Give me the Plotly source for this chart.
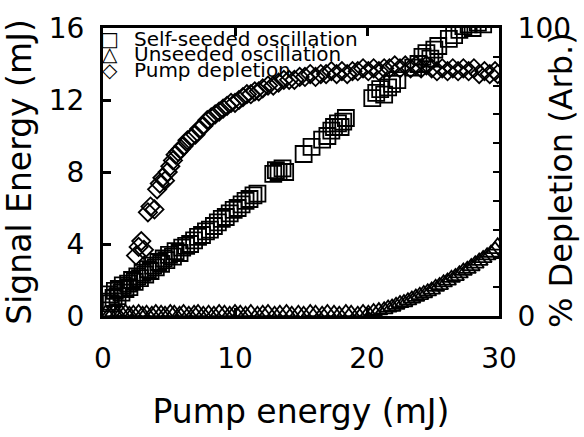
import plotly.graph_objects as go

# ---------------- data ----------------
# Self-seeded oscillation: signal energy (mJ) vs pump energy (mJ)
ss_pump = [0.3, 0.5, 0.6, 0.8, 0.9, 1.1, 1.2, 1.4, 1.5, 1.7, 1.9, 2.0, 2.2, 2.4, 2.6,
           2.8, 3.0, 3.2, 3.4, 3.6, 3.8, 4.0, 4.2, 4.4, 4.6, 4.8, 5.0, 5.3, 5.5, 5.8,
           6.0, 6.3, 6.6, 6.9, 7.2, 7.5, 7.8, 8.1, 8.4, 8.7, 9.0, 9.3, 9.6, 9.9, 10.2,
           10.5, 10.8, 11.1, 11.4, 11.7, 12.9, 13.1, 13.3, 13.6, 13.8, 15.2, 15.8, 16.6,
           17.0, 17.3, 17.5, 17.8, 18.0, 18.2, 18.4, 20.4, 20.7, 21.0, 21.3, 21.6, 21.9,
           22.3, 23.5, 23.9, 24.2, 24.5, 24.8, 25.1, 25.4, 26.2, 26.6, 27.0, 27.3, 27.7,
           28.0, 28.4, 28.8]
ss_signal = [0.8, 1.2, 0.7, 1.0, 1.4, 1.1, 1.5, 1.3, 1.7, 1.5, 1.8, 1.6, 2.0, 1.9, 2.2,
             2.1, 2.4, 2.3, 2.6, 2.5, 2.8, 2.7, 3.0, 2.9, 3.2, 3.1, 3.4, 3.3, 3.6, 3.5,
             3.8, 3.9, 4.0, 4.2, 4.4, 4.5, 4.7, 4.8, 5.0, 5.2, 5.4, 5.5, 5.7, 5.9, 6.0,
             6.2, 6.4, 6.5, 6.7, 6.8, 7.9, 8.1, 8.0, 8.2, 8.0, 9.0, 9.4, 9.8,
             10.0, 10.3, 10.5, 10.7, 10.5, 10.8, 11.0, 12.1, 12.4, 12.6, 12.3, 12.7, 12.9,
             13.1, 13.8, 14.0, 14.4, 14.6, 14.3, 14.8, 15.0, 15.4, 15.6, 15.9, 16.1, 16.2,
             16.0, 16.3, 16.2]

# Unseeded oscillation: signal energy (mJ) vs pump energy (mJ)
us_pump = [0.2, 0.5, 0.8, 1.1, 1.4, 1.7, 2.0, 2.3, 2.7, 3.0, 3.3, 3.7, 4.0, 4.4, 4.7,
           5.1, 5.4, 5.8, 6.1, 6.5, 6.9, 7.2, 7.6, 8.0, 8.4, 8.8, 9.2, 9.6, 10.0, 10.4,
           10.8, 11.2, 11.7, 12.1, 12.5, 13.0, 13.4, 13.9, 14.3, 14.8, 15.2, 15.7, 16.1,
           16.6, 17.0, 17.5, 17.9, 18.4, 18.8, 19.3, 19.7, 20.1, 20.5, 20.9, 21.3, 21.6,
           21.9, 22.2, 22.5, 22.8, 23.1, 23.4, 23.7, 24.0, 24.3, 24.6, 24.9, 25.2, 25.5,
           25.8, 26.1, 26.4, 26.7, 27.0, 27.3, 27.6, 27.9, 28.2, 28.5, 28.8, 29.1, 29.4,
           29.7, 29.9]
us_signal = [0.15, 0.1, 0.2, 0.1, 0.15, 0.2, 0.1, 0.15, 0.2, 0.1, 0.15, 0.1, 0.2, 0.15,
             0.1, 0.2, 0.15, 0.1, 0.2, 0.1, 0.15, 0.2, 0.1, 0.15, 0.1, 0.2, 0.15, 0.1,
             0.2, 0.15, 0.1, 0.2, 0.1, 0.15, 0.2, 0.1, 0.15, 0.2, 0.1, 0.15, 0.1, 0.2,
             0.15, 0.1, 0.2, 0.15, 0.1, 0.2, 0.15, 0.1, 0.2, 0.15, 0.25, 0.3, 0.35, 0.45,
             0.5, 0.6, 0.7, 0.75, 0.85, 0.95, 1.05, 1.15, 1.25, 1.35, 1.45, 1.6, 1.7,
             1.85, 1.95, 2.1, 2.2, 2.35, 2.5, 2.6, 2.75, 2.9, 3.05, 3.2, 3.35, 3.5,
             3.7, 3.9]

# Pump depletion (%) vs pump energy (mJ), right axis
pd_pump = [2.5, 2.7, 2.9, 3.1, 3.4, 3.6, 3.9, 4.1, 4.3, 4.5, 4.7, 4.9, 5.1, 5.3, 5.5,
           5.7, 5.9, 6.1, 6.4, 6.7, 7.0, 7.3, 7.6, 7.9, 8.2, 8.5, 8.8, 9.1, 9.4, 9.7,
           10.0, 10.3, 10.6, 10.9, 11.2, 11.5, 11.8, 12.1, 12.5, 12.9, 13.3, 13.7, 14.1,
           14.5, 14.9, 15.3, 15.7, 16.1, 16.5, 16.9, 17.3, 17.7, 18.1, 18.5, 18.9, 19.3,
           19.7, 20.1, 20.5, 20.9, 21.3, 21.7, 22.1, 22.5, 22.9, 23.3, 23.7, 24.1, 24.5,
           24.9, 25.3, 25.7, 26.1, 26.5, 26.9, 27.3, 27.7, 28.1, 28.5, 28.9, 29.3, 29.7,
           29.9]
pd_depletion = [21, 24, 26, 23, 36, 38, 37, 44, 46, 48, 47, 50, 52, 54, 56,
                57, 58, 59, 61, 62, 63, 65, 66, 68, 69, 70, 71, 72, 73, 74,
                74, 75, 76, 77, 77, 78, 78, 79, 80, 80, 81, 82, 82,
                82, 83, 83, 84, 83, 84, 84, 85, 84, 85, 84, 85, 85,
                86, 85, 86, 85, 86, 86, 87, 86, 87, 86, 87, 86, 87,
                86, 85, 86, 85, 86, 85, 86, 85, 86, 84, 85, 84, 85,
                84]

series_names = ["Self-seeded oscillation", "Unseeded oscillation", "Pump depletion"]
legend_symbols = ["\u25a1", "\u25b3", "\u25c7"]

x_ticks = [0, 10, 20, 30]
y_ticks = [0, 4, 8, 12, 16]
y2_ticks = [0, 10, 20, 30, 40, 50, 60, 70, 80, 90, 100]
y2_ticktext = ["0", "", "", "", "", "", "", "", "", "", "100"]

x_title = "Pump energy (mJ)"
y_title = "Signal Energy (mJ)"
y2_title = "% Depletion (Arb.)"

# ---------------- figure ----------------
W, H = 584, 437
L, R, T, B = 101, 499, 15, 342
FONT = "DejaVu Sans"


def px_x(p):
    return (p - L) / (R - L)


def px_y(p):
    return (B - p) / (B - T)


mline = dict(color="black", width=1.8)

fig = go.Figure()
fig.add_trace(go.Scatter(x=ss_pump, y=ss_signal, mode="markers", name=series_names[0],
                         marker=dict(symbol="square-open", size=16, color="black", line=mline),
                         showlegend=False))
fig.add_trace(go.Scatter(x=us_pump, y=us_signal, mode="markers", name=series_names[1],
                         marker=dict(symbol="triangle-up-open", size=15, color="black", line=mline),
                         showlegend=False))
fig.add_trace(go.Scatter(x=pd_pump, y=pd_depletion, mode="markers", name=series_names[2],
                         yaxis="y2",
                         marker=dict(symbol="diamond-open", size=14, color="black", line=mline),
                         showlegend=False))

tickfont = dict(family=FONT, size=28, color="black")
titlefont = dict(family=FONT, size=33, color="black")

fig.update_layout(
    width=W, height=H,
    margin=dict(l=L, r=W - R, t=T, b=H - B, pad=0),
    paper_bgcolor="white", plot_bgcolor="white",
    font=dict(family=FONT, color="black"),
    xaxis=dict(range=[0, 30], tickvals=x_ticks, ticks="inside", ticklen=8, tickwidth=2.5,
               tickcolor="black", showline=True, linecolor="black", linewidth=3,
               mirror="ticks", showgrid=False, zeroline=False, tickfont=tickfont,
               ticklabelstandoff=15, ticklabeloverflow="allow",
               title=dict(text=x_title, font=titlefont, standoff=27)),
    yaxis=dict(range=[0, 16], tickvals=y_ticks, ticks="inside", ticklen=8, tickwidth=3,
               tickcolor="black", showline=True, linecolor="black", linewidth=3,
               mirror=True, showgrid=False, zeroline=False, tickfont=tickfont,
               ticklabelstandoff=10, ticklabeloverflow="allow",
               title=dict(text=y_title, font=titlefont, standoff=14)),
    yaxis2=dict(range=[0, 100], overlaying="y", side="right", tickvals=y2_ticks,
                ticktext=y2_ticktext, ticks="inside", ticklen=6, tickwidth=2,
                tickcolor="black", showline=True, linecolor="black", linewidth=3,
                showgrid=False, zeroline=False, tickfont=tickfont, ticklabelstandoff=10,
                ticklabeloverflow="allow"),
)

# right-axis title placed as text
fig.add_annotation(text=y2_title, xref="paper", yref="paper", x=px_x(562), y=px_y(188),
                   textangle=-90, showarrow=False,
                   font=dict(family=FONT, size=32, color="black"),
                   xanchor="center", yanchor="middle")

# legend drawn as text rows inside the plot
row_y = [27, 45, 63]
for sym, name, ry in zip(legend_symbols, series_names, row_y):
    fig.add_annotation(text=sym, xref="paper", yref="paper", x=px_x(108), y=px_y(ry),
                       showarrow=False, xanchor="center", yanchor="middle",
                       font=dict(family=FONT, size=20, color="black", weight="bold"))
    fig.add_annotation(text=name, xref="paper", yref="paper", x=px_x(130), y=px_y(ry),
                       showarrow=False, xanchor="left", yanchor="middle",
                       font=dict(family=FONT, size=20, color="black"))

fig.write_html("out.html")
